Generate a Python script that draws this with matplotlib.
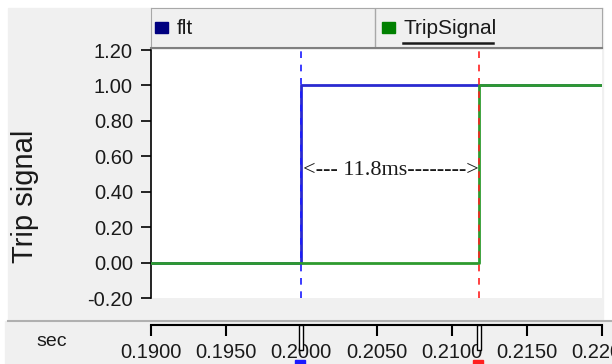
import matplotlib
matplotlib.use("Agg")
import matplotlib.pyplot as plt
from matplotlib.patches import Rectangle
from matplotlib.lines import Line2D

# ---- data ----
flt_t = [0.19, 0.2000, 0.2000, 0.22]
flt_v = [0.0, 0.0, 1.0, 1.0]
trip_t = [0.19, 0.2118, 0.2118, 0.22]
trip_v = [0.0, 0.0, 1.0, 1.0]
cursor_a = 0.2000
cursor_b = 0.2118
annot_text = "<--- 11.8ms-------->"
annot_x = 0.2
annot_y = 0.52
xticks = [0.19, 0.195, 0.20, 0.205, 0.21, 0.215, 0.22]
xticklabels = ["0.1900", "0.1950", "0.2000", "0.2050", "0.2100", "0.2150", "0.2200"]
yticks = [-0.2, 0.0, 0.2, 0.4, 0.6, 0.8, 1.0, 1.2]
yticklabels = ["-0.20", "0.00", "0.20", "0.40", "0.60", "0.80", "1.00", "1.20"]
legend_names = ["flt", "TripSignal"]
legend_colors = ["#000080", "#008000"]

W, H = 612, 364
BG = "#f0f0f0"
TXT = "#1a1a1a"
plt.rcParams['font.family'] = ['Liberation Sans', 'DejaVu Sans']
fig = plt.figure(figsize=(W / 100, H / 100), dpi=100, facecolor="white")

def fx(px):
    return px / W

def fy(py):
    return 1 - py / H

# gray panels
fig.add_artist(Rectangle((fx(8), fy(321)), fx(603 - 8), (321 - 8) / H, color=BG, zorder=-10))
fig.add_artist(Rectangle((fx(5), fy(364)), fx(W - 5), (364 - 321) / H, color=BG, zorder=-10))

L, R, T, B = 151, 602, 50, 298
ax = fig.add_axes([fx(L), fy(B), fx(R - L), (B - T) / H])
ax.set_facecolor("white")
ax.set_xlim(0.19, 0.22)
ax.set_ylim(-0.2, 1.2)
for s in ["top", "right", "bottom"]:
    ax.spines[s].set_visible(False)
ax.spines["left"].set_color("black")
ax.spines["left"].set_linewidth(1.2)
ax.set_xticks([])
ax.set_yticks(yticks)
ax.set_yticklabels(yticklabels, fontsize=14.5, color=TXT)
ax.tick_params(axis="y", direction="out", length=7, width=1.2, pad=6)

ax.plot(flt_t, flt_v, color="#2a2ad0", lw=2, zorder=3)
ax.plot(trip_t, trip_v, color="#2e9a2e", lw=2, zorder=4)
ax.axvline(cursor_a, color="#1a1aff", lw=1.2, ls=(0, (4, 4)), zorder=5)
ax.axvline(cursor_b, color="#ff2020", lw=1.2, ls=(0, (4, 4)), zorder=5)
ax.text(annot_x + 0.0001, annot_y, annot_text, family=["Liberation Serif", "DejaVu Serif"],
        fontsize=16, color=TXT, ha="left", va="center", zorder=6)

fig.text(fx(25), fy(196), "Trip signal", rotation=90, ha="center", va="center",
         fontsize=21, color=TXT)

# legend bar
LT, LB = 8, 48
lax = fig.add_axes([fx(L), fy(LB), fx(R - L), (LB - LT) / H])
lax.set_xlim(0, R - L)
lax.set_ylim(LB - LT, 0)
lax.set_facecolor(BG)
lax.set_xticks([]); lax.set_yticks([])
for s in lax.spines.values():
    s.set_color("#a8a8a8")
lax.spines["bottom"].set_color("#808080")
lax.spines["bottom"].set_linewidth(1.5)
lax.axvline(375 - L, color="#a8a8a8", lw=1)
sq_x = [155 - L, 382 - L]
tx_x = [177 - L, 403 - L]
for i, (name, col) in enumerate(zip(legend_names, legend_colors)):
    lax.add_patch(Rectangle((sq_x[i], 22 - LT), 13, 11, color=col))
    lax.text(tx_x[i], 29 - LT, name, fontsize=15, va="center", ha="left", color=TXT)
lax.plot([403 - L, 493 - L], [43 - LT, 43 - LT], color=TXT, lw=1.8)

# separator line
fig.add_artist(Line2D([fx(8), fx(W)], [fy(321), fy(321)], color="#b0b0b0", lw=1.5))

# lower x axis
xax = fig.add_axes([fx(L), fy(325), fx(R - L), 0.0001])
xax.set_xlim(0.19, 0.22)
xax.set_facecolor("none")
for s in ["top", "right", "left"]:
    xax.spines[s].set_visible(False)
xax.spines["bottom"].set_linewidth(1.5)
xax.set_yticks([])
xax.set_xticks(xticks)
xax.set_xticklabels(xticklabels, fontsize=14.5, color=TXT)
xax.tick_params(axis="x", direction="out", length=8, width=1.5, pad=5)
fig.text(fx(52), fy(342), "sec", fontsize=14, ha="center", va="center", color=TXT)

# cursor markers in lower panel
for c, col in [(cursor_a, "#1a1aff"), (cursor_b, "#ff2020")]:
    px = L + (c - 0.19) / 0.03 * (R - L)
    fig.add_artist(Rectangle((fx(px - 2), fy(350)), fx(4), 25 / H, fill=True,
                             facecolor="white", edgecolor="black", lw=1))
    fig.add_artist(Rectangle((fx(px - 6), fy(364)), fx(10), 4 / H, color=col))

fig.savefig("out.png", dpi=100, facecolor="white")
